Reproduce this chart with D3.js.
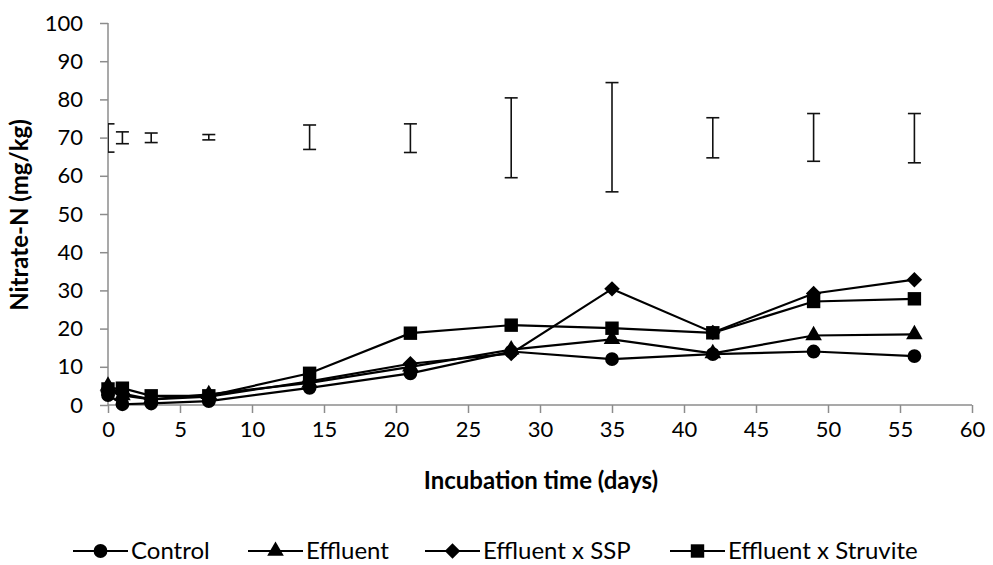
<!DOCTYPE html>
<html>
  <head>
    <meta charset="utf-8">
    <title>Nitrate-N incubation</title>
    <script src="https://d3js.org/d3.v7.min.js"></script>
    <style>
      body { margin: 0; background: #fff; }
      text { font-family: Lato, "Open Sans", sans-serif; fill: #000; }
    </style>
  </head>
  <body>
    <script>

      // data
      var days = [0, 1, 3, 7, 14, 21, 28, 35, 42, 49, 56];
      var control  = [2.6, 0.2, 0.4, 1.0, 4.5, 8.3, 14.0, 12.0, 13.3, 14.0, 12.8];
      var effluent = [5.0, 2.5, 1.5, 2.8, 5.8, 10.0, 14.5, 17.2, 13.5, 18.2, 18.5];
      var ssp      = [3.5, 3.0, 1.5, 2.2, 6.2, 10.8, 13.5, 30.4, 19.0, 29.2, 32.8];
      var struvite = [4.2, 4.4, 2.4, 2.4, 8.3, 18.8, 20.9, 20.1, 18.9, 27.1, 27.8];
      var errTop    = [73.6, 71.5, 71.2, 70.8, 73.3, 73.6, 80.4, 84.4, 75.2, 76.3, 76.3];
      var errBottom = [66.2, 68.4, 68.7, 69.4, 66.9, 66.1, 59.5, 55.8, 64.7, 63.8, 63.4];
      var xTicks = [0, 5, 10, 15, 20, 25, 30, 35, 40, 45, 50, 55, 60];
      var yTicks = [0, 10, 20, 30, 40, 50, 60, 70, 80, 90, 100];

      // diamond drawn as a square turned 45 degrees (d3's diamond is too narrow)
      var symbolWideDiamond = {
        draw: function(context, size) {
          var r = Math.sqrt(size / 2);
          context.moveTo(0, -r);
          context.lineTo(r, 0);
          context.lineTo(0, r);
          context.lineTo(-r, 0);
          context.closePath();
        }
      };

      var series = [
        {name: "Control", values: control, symbol: d3.symbolCircle, size: 150},
        {name: "Effluent", values: effluent, symbol: d3.symbolTriangle, size: 120},
        {name: "Effluent x SSP", values: ssp, symbol: symbolWideDiamond, size: 120},
        {name: "Effluent x Struvite", values: struvite, symbol: d3.symbolSquare, size: 180}
      ];

      var width = 993, height = 565;
      var svg = d3.select("body").append("svg")
                  .attr("width", width)
                  .attr("height", height);

      var x = d3.scaleLinear().domain([0, 60]).range([108, 972]);
      var y = d3.scaleLinear().domain([0, 100]).range([405, 23]);

      // clip so the day-0 error bar is cut by the axis like in the original
      svg.append("clipPath").attr("id", "plot")
        .append("rect").attr("x", x(0)).attr("y", 0)
        .attr("width", x(60) - x(0)).attr("height", y(0));

      // axes
      var xAxis = svg.append("g")
        .attr("transform", "translate(0," + y(0) + ")")
        .call(d3.axisBottom(x).tickValues(xTicks).tickSize(8).tickPadding(8));
      var yAxis = svg.append("g")
        .attr("transform", "translate(" + x(0) + ",0)")
        .call(d3.axisLeft(y).tickValues(yTicks).tickSize(8).tickPadding(17));

      [xAxis, yAxis].forEach(function(a) {
        a.select(".domain").attr("stroke", "#8c8c8c").attr("stroke-width", 1.5);
        a.selectAll(".tick line").attr("stroke", "#8c8c8c").attr("stroke-width", 1.5);
        a.selectAll(".tick text").style("font-size", "22px").attr("fill", "#000");
      });
      xAxis.select(".domain").attr("d", "M" + x(0) + ",0H" + x(60));
      yAxis.select(".domain").attr("d", "M0," + y(0) + "V" + y(100));

      // error bars
      var eb = svg.append("g").attr("clip-path", "url(#plot)")
        .selectAll("g").data(days).enter().append("g")
        .attr("stroke", "#111").attr("stroke-width", 1.6);
      eb.append("line")
        .attr("x1", function(d) { return x(d); }).attr("x2", function(d) { return x(d); })
        .attr("y1", function(d, i) { return y(errTop[i]); })
        .attr("y2", function(d, i) { return y(errBottom[i]); });
      eb.append("line")
        .attr("x1", function(d) { return x(d) - 6.5; }).attr("x2", function(d) { return x(d) + 6.5; })
        .attr("y1", function(d, i) { return y(errTop[i]); })
        .attr("y2", function(d, i) { return y(errTop[i]); });
      eb.append("line")
        .attr("x1", function(d) { return x(d) - 6.5; }).attr("x2", function(d) { return x(d) + 6.5; })
        .attr("y1", function(d, i) { return y(errBottom[i]); })
        .attr("y2", function(d, i) { return y(errBottom[i]); });

      // lines and markers
      var line = d3.line()
        .x(function(d, i) { return x(days[i]); })
        .y(function(d) { return y(d); });

      series.forEach(function(s) {
        svg.append("path")
          .attr("d", line(s.values))
          .attr("fill", "none")
          .attr("stroke", "#000")
          .attr("stroke-width", 2.2);
      });
      series.forEach(function(s) {
        svg.append("g").selectAll("path").data(s.values).enter().append("path")
          .attr("d", d3.symbol().type(s.symbol).size(s.size))
          .attr("transform", function(d, i) { return "translate(" + x(days[i]) + "," + y(d) + ")"; })
          .attr("fill", "#000");
      });

      // axis titles
      svg.append("text")
        .attr("x", 541).attr("y", 489)
        .attr("text-anchor", "middle")
        .style("font-size", "24px").style("font-weight", "bold")
        .text("Incubation time (days)");
      svg.append("text")
        .attr("transform", "translate(28,215) rotate(-90)")
        .attr("text-anchor", "middle")
        .style("font-size", "24px").style("font-weight", "bold")
        .text("Nitrate-N (mg/kg)");

      // legend
      var legendX = [73, 248, 425, 670];
      var lg = svg.append("g").selectAll("g").data(series).enter().append("g")
        .attr("transform", function(d, i) { return "translate(" + legendX[i] + ",551)"; });
      lg.append("line").attr("x1", 0).attr("x2", 55).attr("y1", 0).attr("y2", 0)
        .attr("stroke", "#000").attr("stroke-width", 2.2);
      lg.append("path")
        .attr("d", function(d) { return d3.symbol().type(d.symbol).size(d.size)(); })
        .attr("transform", "translate(27.5,0)");
      lg.append("text").attr("x", 58).attr("y", 8)
        .style("font-size", "24px")
        .text(function(d) { return d.name; });

    </script>
  </body>
</html>
